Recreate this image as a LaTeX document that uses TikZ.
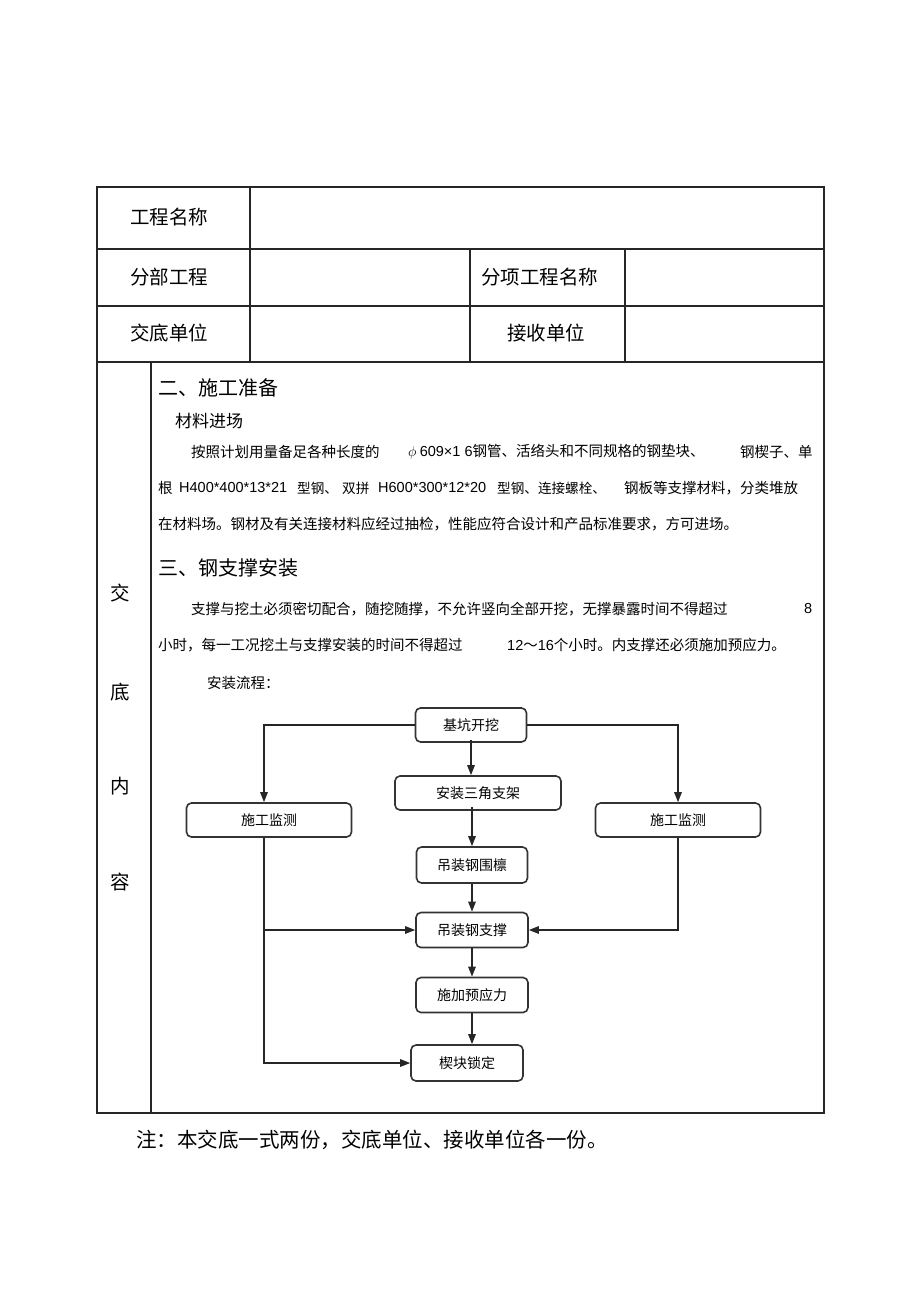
\documentclass[tikz,border=0pt]{standalone}
\usepackage{fontspec}
\setmainfont{Noto Sans CJK SC}
\newfontfamily\latin{Liberation Sans}
\usetikzlibrary{arrows.meta}

\tikzset{
  grid/.style={line width=1.2pt, draw=black!85},
  cell/.style={anchor=west, inner sep=0pt, font=\fontsize{19.5}{22}\selectfont},
  head/.style={anchor=west, inner sep=0pt, font=\fontsize{20}{24}\selectfont},
  txt/.style={anchor=west, inner sep=0pt, font=\fontsize{14.5}{17}\selectfont},
  narrow/.style={txt, font=\fontsize{13.6}{17}\selectfont},
  flowbox/.style={draw=black!80, line width=1.6pt, rounded corners=5pt,
    inner sep=0pt, font=\fontsize{14}{16}\selectfont},
  flowarrow/.style={-{Triangle[length=10pt,width=7.5pt]}, line width=1.4pt, draw=black!85}
}

\begin{document}
\begin{tikzpicture}[x=1pt, y=-1pt]
\useasboundingbox (0,0) rectangle (920,1303);

% table
\draw[grid] (97,187) rectangle (824,1113);
\draw[grid] (97,249)--(824,249);
\draw[grid] (97,306)--(824,306);
\draw[grid] (97,362)--(824,362);
\draw[grid] (250,187)--(250,362);
\draw[grid] (470,249)--(470,362);
\draw[grid] (625,249)--(625,362);
\draw[grid] (151,362)--(151,1113);

\node[cell] (name)  at (130,217) {工程名称};
\node[cell] (part)  at (130,277) {分部工程};
\node[cell] (item)  at (481,277) {分项工程名称};
\node[cell] (giver) at (130,333) {交底单位};
\node[cell] (taker) at (507,333) {接收单位};

% left column
\node[cell, anchor=center] (c1) at (120,593) {交};
\node[cell, anchor=center] (c2) at (120,692) {底};
\node[cell, anchor=center] (c3) at (120,786) {内};
\node[cell, anchor=center] (c4) at (120,882) {容};

% section two
\node[head] (prep) at (158,388) {二、施工准备};
\node[txt, font=\fontsize{17}{20}\selectfont] (mat) at (175,421) {材料进场};
\node[txt] (p1a) at (191,452) {按照计划用量备足各种长度的};
\node[txt] (p1b) at (408,452) {$\phi$ {\latin 609×1 6}钢管、活络头和不同规格的钢垫块、};
\node[txt] (p1c) at (740,452) {钢楔子、单};
\node[txt] (p2a) at (158,488) {根};
\node[txt] (p2b) at (179,488) {\latin H400*400*13*21};
\node[narrow] (p2c) at (297,488) {型钢、};
\node[narrow] (p2d) at (342,488) {双拼};
\node[txt] (p2e) at (378,488) {\latin H600*300*12*20};
\node[narrow] (p2f) at (497,488) {型钢、连接螺栓、};
\node[txt] (p2g) at (624,488) {钢板等支撑材料，分类堆放};
\node[txt] (p3a) at (158,524) {在材料场。钢材及有关连接材料应经过抽检，性能应符合设计和产品标准要求，方可进场。};

% section three
\node[head] (inst) at (158,568) {三、钢支撑安装};
\node[txt] (q1a) at (191,609) {支撑与挖土必须密切配合，随挖随撑，不允许竖向全部开挖，无撑暴露时间不得超过};
\node[txt] (q1b) at (804,609) {\latin 8};
\node[txt] (q2a) at (158,645) {小时，每一工况挖土与支撑安装的时间不得超过};
\node[txt] (q2b) at (507,645) {{\latin 12}～{\latin 16}个小时。内支撑还必须施加预应力。};
\node[txt] (flow) at (207,683) {安装流程：};

% flow chart
\node[flowbox, minimum width=111pt, minimum height=34pt] (dig)  at (471,725) {基坑开挖};
\node[flowbox, minimum width=166pt, minimum height=34pt] (tri)  at (478,793) {安装三角支架};
\node[flowbox, minimum width=165pt, minimum height=34pt] (monL) at (269,820) {施工监测};
\node[flowbox, minimum width=165pt, minimum height=34pt] (monR) at (678,820) {施工监测};
\node[flowbox, minimum width=111pt, minimum height=36pt] (wei)  at (472,865) {吊装钢围檩};
\node[flowbox, minimum width=112pt, minimum height=35pt] (sup)  at (472,930) {吊装钢支撑};
\node[flowbox, minimum width=112pt, minimum height=35pt] (pre)  at (472,995) {施加预应力};
\node[flowbox, minimum width=112pt, minimum height=36pt] (lock) at (467,1063) {楔块锁定};

\coordinate (trunkL) at (264,930);

\draw[flowarrow] (dig.west) -| ([xshift=-5pt]monL.north);
\draw[flowarrow] (dig.east) -| (monR.north);
\draw[flowarrow] ([yshift=3pt]dig.south) -- (dig.south |- tri.north);
\draw[flowarrow] ([yshift=4pt]wei.north |- tri.south) -- (wei.north);
\draw[flowarrow] (wei.south) -- (sup.north);
\draw[flowarrow] (sup.south) -- (pre.north);
\draw[flowarrow] (pre.south) -- (pre.south |- lock.north);
\draw[flowarrow] ([xshift=-5pt]monL.south) |- (lock.west);
\draw[flowarrow] (trunkL) -- (sup.west);
\draw[flowarrow] (monR.south) |- (sup.east);

% note
\node[head, font=\fontsize{20.5}{24}\selectfont] (note) at (136,1140) {注：本交底一式两份，交底单位、接收单位各一份。};
\end{tikzpicture}
\end{document}
